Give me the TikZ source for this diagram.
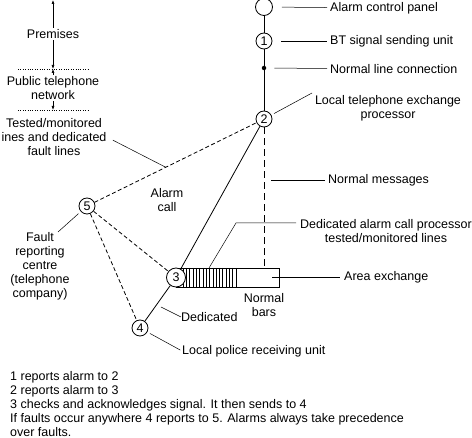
\documentclass[tikz,border=0pt]{standalone}
\usepackage{fontspec}
\setmainfont{Liberation Sans}
\usetikzlibrary{arrows.meta}

\tikzset{
  unit/.style={draw, circle, minimum size=16pt, inner sep=0pt, line width=0.8pt},
  lbl/.style={inner sep=0pt, align=center},
  leader/.style={line width=0.5pt},
  faultline/.style={line width=0.8pt, dash pattern=on 4pt off 2.5pt},
  rangearrow/.style={line width=0.6pt, {Latex[length=4pt,width=3pt]}-{Latex[length=4pt,width=3pt]}},
}

\begin{document}
\begin{tikzpicture}[x=1pt, y=-1pt, font=\fontsize{12.5}{14}\selectfont]
    \useasboundingbox (0,0) rectangle (472,438);

    % left hand scale
    \draw [rangearrow] (53,0) -- (53,69);
    \draw [rangearrow] (53,69) -- (53,110);
    \draw [dotted] (18,69) -- (88,69)
                   (18,110) -- (88,110);
    \node [lbl, fill=white, inner sep=1pt] (premises) at (53,34) {Premises};
    \node [lbl, fill=white, inner sep=1pt] (public) at (53,88) {Public telephone\\network};
    \node [lbl] (testlbl) at (54,137) {Tested/monitored\\ines and dedicated\\fault lines};

    % units on the line
    \node [unit, minimum size=17pt] (panel) at (264,7) {};
    \node [unit] (n1) at (264,41) {1};
    \node [circle, fill, inner sep=0pt, minimum size=4.5pt] (link) at (264,68) {};
    \node [unit] (n2) at (264,119) {2};
    \node [unit] (n5) at (87,206) {5};
    \node [unit] (n4) at (140,328) {4};

    % area exchange
    \draw [line width=0.8pt] (176,268) rectangle (279,287);
    \foreach \x in {183,186.3,...,233}
      \draw [line width=0.4pt] (\x,268) -- (\x,287);
    \draw [line width=0.6pt] (236,268) -- (236,287);
    \node [unit, fill=white, minimum size=19pt] (n3) at (176,277.5) {3};
    \coordinate (boxtop) at (264,268);

    % connections
    \draw [line width=0.8pt] (panel) -- (n1) -- (link) -- (n2);
    \draw [line width=0.8pt] (n2) -- (n3) -- (n4);
    \draw [line width=0.9pt, dash pattern=on 7pt off 4pt] (n2) -- (boxtop);
    \draw [faultline] (n5) -- (n2);
    \draw [faultline] (n5) -- (n3);
    \draw [faultline] (n5) -- (n4);
    \path (n5) -- (n2) coordinate [pos=0.44] (testpt);

    % labels
    \node [lbl, anchor=west] (panellbl) at (330,8) {Alarm control panel};
    \node [lbl, anchor=west] (n1lbl) at (330,41) {BT signal sending unit};
    \node [lbl, anchor=west] (linklbl) at (330,69) {Normal line connection};
    \node [lbl] (n2lbl) at (388,108) {Local telephone exchange\\processor};
    \node [lbl, anchor=west] (msglbl) at (328,180) {Normal messages};
    \node [lbl] (alarmcall) at (167,200) {Alarm\\call};
    \node [lbl] (proclbl) at (386,231) {Dedicated alarm call processor\\tested/monitored lines};
    \node [lbl, anchor=west] (arealbl) at (344,277) {Area exchange};
    \node [lbl] (bars) at (264,305) {Normal\\bars};
    \node [lbl, anchor=west] (dedlbl) at (181,317) {Dedicated};
    \node [lbl, anchor=west] (n4lbl) at (182,351) {Local police receiving unit};
    \node [lbl] (n5lbl) at (40,266) {Fault\\reporting\\centre\\(telephone\\company)};

    % leader lines
    \coordinate (exchpt) at (312,93);
    \coordinate (msgpt) at (264,180);
    \coordinate (hatch) at (209,268);
    \coordinate (bend) at (236,223);
    \coordinate (areapt) at (272,277);
    \coordinate (dedpt) at (161,307);
    \coordinate (faultpt) at (58,232);
    \draw [leader, shorten <=9pt, shorten >=3pt] (panel) -- (panellbl);
    \draw [leader, shorten <=9pt, shorten >=3pt] (n1) -- (n1lbl);
    \draw [leader, shorten <=8pt, shorten >=3pt] (link) -- (linklbl);
    \draw [leader, shorten <=3pt] (n2) -- (exchpt);
    \draw [leader, shorten <=7pt, shorten >=3pt] (msgpt) -- (msglbl);
    \draw [leader, shorten >=4pt] (hatch) -- (bend) -- (bend -| proclbl.west);
    \draw [leader, shorten >=4pt] (areapt) -- (arealbl);
    \draw [leader] (dedpt) -- (dedlbl.west);
    \draw [leader, shorten <=3pt, shorten >=2pt] (n4) -- (n4lbl.west);
    \draw [leader, shorten <=3pt] (n5) -- (faultpt);
    \draw [leader, shorten <=7pt] (testlbl.east) -- (testpt);

    % notes
    \node [lbl, align=left, anchor=north west] (notes) at (10,371)
      {1 reports alarm to 2\\
       2 reports alarm to 3\\
       3 checks and acknowledges signal. It then sends to 4\\
       If faults occur anywhere 4 reports to 5. Alarms always take precedence\\
       over faults.};
\end{tikzpicture}
\end{document}
